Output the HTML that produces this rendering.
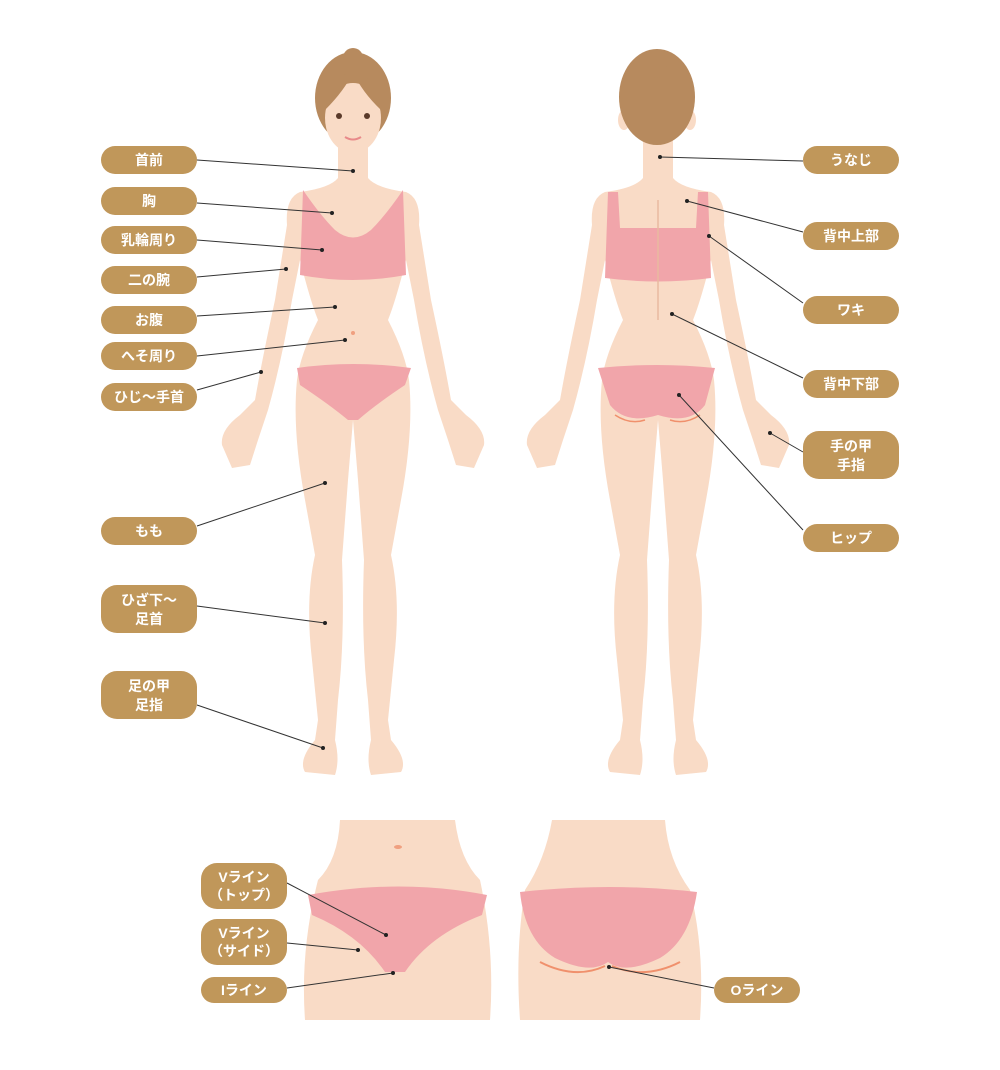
<!DOCTYPE html>
<html><head><meta charset="utf-8"><style>
html,body{margin:0;padding:0;background:#fff;}
svg{display:block}
text{font-family:"Liberation Sans","Noto Sans CJK JP",sans-serif;font-weight:bold;fill:#fff;font-size:14px;text-anchor:middle}
</style></head><body>
<svg width="1000" height="1070" viewBox="0 0 1000 1070" xmlns="http://www.w3.org/2000/svg">
<defs>
<path id="body" d="M338,140 L338,178 Q330,188 300,192 Q285,198 287,225 L275,300 Q262,360 255,400 L240,415 Q220,430 222,445 L232,468 L250,465 L258,440 L268,410 Q282,360 292,300 L300,260 Q310,300 318,320 Q300,355 297,380 Q292,430 305,500 L315,555 Q305,600 312,660 L318,720 L315,740 Q298,760 305,772 L335,775 Q340,760 335,740 L338,700 Q345,640 342,560 L348,480 L353,420 L358,480 L364,560 Q361,640 368,700 L371,740 Q366,760 371,775 L401,772 Q408,760 391,740 L388,720 L394,660 Q401,600 391,555 L401,500 Q414,430 409,380 Q406,355 388,320 Q396,300 406,260 L414,300 Q424,360 438,410 L448,440 L456,465 L474,468 L484,445 Q486,430 466,415 L451,400 Q444,360 431,300 L419,225 Q421,198 406,192 Q376,188 368,178 L368,140 Z"/>
</defs>
<!-- FRONT -->
<use href="#body" fill="#f9dbc6"/>
<ellipse cx="353" cy="98" rx="38" ry="46" fill="#b78a5e"/>
<circle cx="353" cy="58" r="10" fill="#b78a5e"/>
<ellipse cx="353" cy="118" rx="28" ry="35" fill="#f9dbc6"/>
<path d="M325,110 Q330,75 353,72 Q345,90 325,110Z M381,110 Q376,75 353,72 Q362,92 381,110Z" fill="#b78a5e"/>
<circle cx="339" cy="116" r="3" fill="#5a3a2a"/><circle cx="367" cy="116" r="3" fill="#5a3a2a"/>
<path d="M345,137 Q353,142 361,137" stroke="#e88a8a" stroke-width="2" fill="none"/>
<path d="M303,190 Q320,215 335,230 Q353,245 371,230 Q386,215 403,190 L406,275 Q353,285 300,275 Z" fill="#f1a5aa"/>
<path d="M297,368 Q353,360 411,368 L405,385 Q375,405 358,420 L348,420 Q330,405 300,385 Z" fill="#f1a5aa"/>
<circle cx="353" cy="333" r="2" fill="#f0a080"/>
<!-- BACK -->
<use href="#body" transform="translate(305,0)" fill="#f9dbc6"/>
<ellipse cx="624" cy="120" rx="6" ry="10" fill="#f9dbc6"/>
<ellipse cx="690" cy="120" rx="6" ry="10" fill="#f9dbc6"/>
<ellipse cx="657" cy="97" rx="38" ry="48" fill="#b78a5e"/>
<ellipse cx="657" cy="64" rx="10" ry="14" fill="#b78a5e"/>
<path d="M608,192 L618,192 L620,228 L696,228 L698,192 L708,192 L711,278 Q658,285 605,278 Z" fill="#f1a5aa"/>
<path d="M658,200 L658,320" stroke="#e9b9a0" stroke-width="1.5"/>
<path d="M598,368 Q658,362 715,368 L705,405 Q690,425 658,415 Q626,425 610,405 Z" fill="#f1a5aa"/>
<path d="M615,415 Q630,425 645,420 M670,420 Q685,425 700,415" stroke="#f0906c" stroke-width="1.5" fill="none"/>
<!-- BOTTOM FRONT -->
<path d="M340,820 L455,820 Q460,860 480,880 Q495,950 490,1020 L305,1020 Q300,950 318,880 Q338,860 340,820Z" fill="#f9dbc6"/>
<path d="M308,895 Q400,878 487,895 L482,915 Q430,935 405,972 L385,972 Q360,935 312,915 Z" fill="#f1a5aa"/>
<ellipse cx="398" cy="847" rx="4" ry="2" fill="#f0a080"/>
<!-- BOTTOM BACK -->
<path d="M552,820 L665,820 Q668,860 690,890 Q705,950 700,1020 L520,1020 Q515,950 525,890 Q545,860 552,820 Z" fill="#f9dbc6"/>
<path d="M520,892 Q610,882 697,892 Q690,940 660,958 Q625,975 608,962 Q590,975 555,958 Q525,940 520,892Z" fill="#f1a5aa"/>
<path d="M540,962 Q575,980 605,966 M612,966 Q645,980 680,962" stroke="#f0906c" stroke-width="2" fill="none"/>
<!-- LINES -->
<g stroke="#333" stroke-width="1" fill="none">
<path d="M197,160L353,171M197,203L332,213M197,240L322,250M197,277L286,269M197,316L335,307M197,356L345,340M197,390L261,372M197,526L325,483M197,606L325,623M197,705L323,748M803,161L660,157M803,232L687,201M803,303L709,236M803,378L672,314M803,452L770,433M803,530L679,395M287,883L386,935M287,943L358,950M287,988L393,973M714,988L609,967"/>
</g>
<g fill="#222">
<circle cx="353" cy="171" r="2"/><circle cx="332" cy="213" r="2"/><circle cx="322" cy="250" r="2"/><circle cx="286" cy="269" r="2"/><circle cx="335" cy="307" r="2"/><circle cx="345" cy="340" r="2"/><circle cx="261" cy="372" r="2"/><circle cx="325" cy="483" r="2"/><circle cx="325" cy="623" r="2"/><circle cx="323" cy="748" r="2"/><circle cx="660" cy="157" r="2"/><circle cx="687" cy="201" r="2"/><circle cx="709" cy="236" r="2"/><circle cx="672" cy="314" r="2"/><circle cx="770" cy="433" r="2"/><circle cx="679" cy="395" r="2"/><circle cx="386" cy="935" r="2"/><circle cx="358" cy="950" r="2"/><circle cx="393" cy="973" r="2"/><circle cx="609" cy="967" r="2"/>
</g>
<!-- LABELS -->
<g fill="#c0975a">
<rect x="101" y="146" width="96" height="28" rx="14"/>
<rect x="101" y="187" width="96" height="28" rx="14"/>
<rect x="101" y="226" width="96" height="28" rx="14"/>
<rect x="101" y="266" width="96" height="28" rx="14"/>
<rect x="101" y="306" width="96" height="28" rx="14"/>
<rect x="101" y="342" width="96" height="28" rx="14"/>
<rect x="101" y="383" width="96" height="28" rx="14"/>
<rect x="101" y="517" width="96" height="28" rx="14"/>
<rect x="101" y="585" width="96" height="48" rx="16"/>
<rect x="101" y="671" width="96" height="48" rx="16"/>
<rect x="803" y="146" width="96" height="28" rx="14"/>
<rect x="803" y="222" width="96" height="28" rx="14"/>
<rect x="803" y="296" width="96" height="28" rx="14"/>
<rect x="803" y="370" width="96" height="28" rx="14"/>
<rect x="803" y="431" width="96" height="48" rx="16"/>
<rect x="803" y="524" width="96" height="28" rx="14"/>
<rect x="201" y="863" width="86" height="46" rx="16"/>
<rect x="201" y="919" width="86" height="46" rx="16"/>
<rect x="201" y="977" width="86" height="26" rx="13"/>
<rect x="714" y="977" width="86" height="26" rx="13"/>
</g>
<text x="149" y="165">首前</text>
<text x="149" y="206">胸</text>
<text x="149" y="245">乳輪周り</text>
<text x="149" y="285">二の腕</text>
<text x="149" y="325">お腹</text>
<text x="149" y="361">へそ周り</text>
<text x="149" y="402">ひじ〜手首</text>
<text x="149" y="536">もも</text>
<text x="149" y="605">ひざ下〜</text><text x="149" y="624">足首</text>
<text x="149" y="691">足の甲</text><text x="149" y="710">足指</text>
<text x="851" y="165">うなじ</text>
<text x="851" y="241">背中上部</text>
<text x="851" y="315">ワキ</text>
<text x="851" y="389">背中下部</text>
<text x="851" y="451">手の甲</text><text x="851" y="470">手指</text>
<text x="851" y="543">ヒップ</text>
<text x="244" y="882">Vライン</text><text x="244" y="900">（トップ）</text>
<text x="244" y="938">Vライン</text><text x="244" y="956">（サイド）</text>
<text x="244" y="995">Iライン</text>
<text x="757" y="995">Oライン</text>
</svg>
</body></html>
